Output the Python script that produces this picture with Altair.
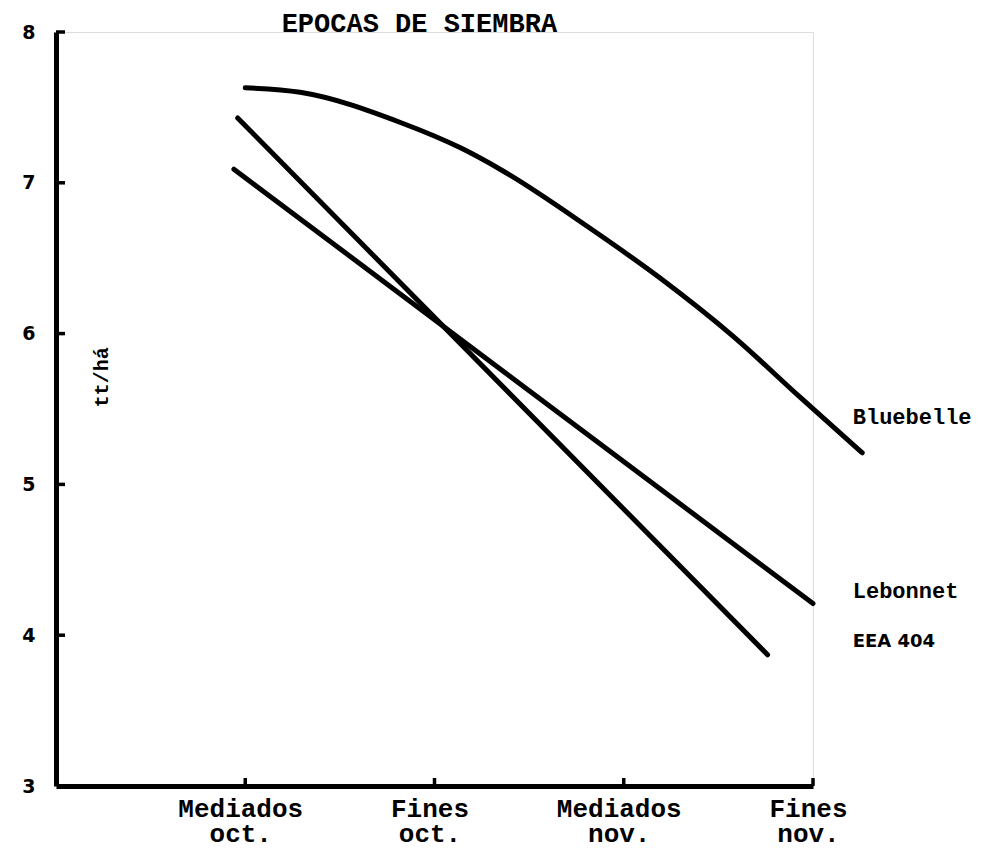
import altair as alt
import pandas as pd

# ---- data ----
x_ticks = [1, 2, 3, 4]
x_tick_line1 = ["Mediados", "Fines", "Mediados", "Fines"]
x_tick_line2 = ["oct.", "oct.", "nov.", "nov."]
y_ticks = [3, 4, 5, 6, 7, 8]
y_inner_ticks = [4, 5, 6, 7, 8]

bluebelle_x = [1.0, 1.29, 1.82, 2.14, 2.36, 2.82, 3.19, 3.58, 3.93, 4.26]
bluebelle_y = [7.63, 7.60, 7.40, 7.23, 7.08, 6.70, 6.37, 5.98, 5.58, 5.21]
lebonnet_x = [0.94, 4.0]
lebonnet_y = [7.09, 4.21]
eea_x = [0.96, 3.76]
eea_y = [7.43, 3.87]

label_names = ["Bluebelle", "Lebonnet", "EEA 404"]
label_x = [4.21, 4.21, 4.21]
label_y = [5.40, 4.25, 3.92]

title_text = ["EPOCAS DE SIEMBRA"]
title_x = [1.92]
title_y = [8.0]

y_title = ["tt/há"]
y_title_x = [0.245]
y_title_y = [5.71]

# ---- tables ----
rows = []
for name, xs_, ys_ in [("Bluebelle", bluebelle_x, bluebelle_y),
                       ("Lebonnet", lebonnet_x, lebonnet_y),
                       ("EEA 404", eea_x, eea_y)]:
    for i, (a, b) in enumerate(zip(xs_, ys_)):
        rows.append({"serie": name, "u": a, "v": b, "o": i})
lines_df = pd.DataFrame(rows)
labels_df = pd.DataFrame({"name": label_names, "u": label_x, "v": label_y})
ytick_df = pd.DataFrame({"v": y_inner_ticks})
xtick_df = pd.DataFrame({"u": x_ticks})
ytitle_df = pd.DataFrame({"t": y_title, "u": y_title_x, "v": y_title_y})
title_df = pd.DataFrame({"t": title_text, "u": title_x, "v": title_y})

label_expr = ""
for val, l1, l2 in zip(x_ticks, x_tick_line1, x_tick_line2):
    label_expr += f"datum.value == {val} ? ['{l1}', '{l2}'] : "
label_expr += "''"

W, H = 757, 754
MONO = "Liberation Mono"
SANS = "DejaVu Sans"

xs = alt.Scale(domain=[0, 4], nice=False, zero=False)
ys = alt.Scale(domain=[3, 8], nice=False, zero=False)

x_axis = alt.Axis(values=x_ticks, labelExpr=label_expr, title=None, grid=False,
                  ticks=False, tickSize=0, domainWidth=5, domainColor="black",
                  labelFont=MONO, labelFontSize=26, labelFontWeight="bold",
                  labelColor="black", labelLineHeight=25, labelBaseline="top",
                  labelPadding=9, labelFlush=False, labelOffset=-5)
y_axis = alt.Axis(values=y_ticks, format="d", title=None, grid=False, ticks=False,
                  tickSize=0, domainWidth=5, domainColor="black", labelFont=SANS,
                  labelFontSize=19, labelFontWeight="bold", labelColor="black",
                  labelPadding=21, labelBaseline="middle")

lines = alt.Chart(lines_df).mark_line(
    color="black", strokeWidth=5, strokeCap="round", interpolate="monotone", clip=False
).encode(
    x=alt.X("u:Q", scale=xs, axis=x_axis),
    y=alt.Y("v:Q", scale=ys, axis=y_axis),
    detail="serie:N",
    order="o:Q",
)

yticks = alt.Chart(ytick_df).mark_rule(color="black", strokeWidth=3.5).encode(
    y=alt.Y("v:Q", scale=ys), x=alt.value(0), x2=alt.value(9)
)
xticks = alt.Chart(xtick_df).mark_rule(color="black", strokeWidth=3.5).encode(
    x=alt.X("u:Q", scale=xs), y=alt.value(H), y2=alt.value(H - 8)
)

mono_labels = alt.Chart(labels_df[labels_df["name"] != "EEA 404"]).mark_text(
    align="left", baseline="alphabetic", font=MONO, fontSize=22, fontWeight="bold",
    color="black", clip=False
).encode(x=alt.X("u:Q", scale=xs), y=alt.Y("v:Q", scale=ys), text="name:N")

sans_labels = alt.Chart(labels_df[labels_df["name"] == "EEA 404"]).mark_text(
    align="left", baseline="alphabetic", font=SANS, fontSize=18, fontWeight="bold",
    color="black", clip=False
).encode(x=alt.X("u:Q", scale=xs), y=alt.Y("v:Q", scale=ys), text="name:N")

ytitle = alt.Chart(ytitle_df).mark_text(
    angle=270, align="center", baseline="middle", font=MONO, fontSize=20,
    fontWeight="bold", color="black"
).encode(x=alt.X("u:Q", scale=xs), y=alt.Y("v:Q", scale=ys), text="t:N")

title = alt.Chart(title_df).mark_text(
    align="center", baseline="alphabetic", font=MONO, fontSize=27, fontWeight="bold",
    color="black", clip=False
).encode(x=alt.X("u:Q", scale=xs), y=alt.Y("v:Q", scale=ys), text="t:N")

chart = alt.layer(lines, yticks, xticks, mono_labels, sans_labels, ytitle, title).properties(
    width=W, height=H,
    autosize=alt.AutoSizeParams(type="none"),
    padding={"left": 48, "top": 24, "right": 165, "bottom": 60},
).configure_view(stroke=None).configure(background="white")

chart.save("out.html", embed_options={"renderer": "svg", "actions": False})
